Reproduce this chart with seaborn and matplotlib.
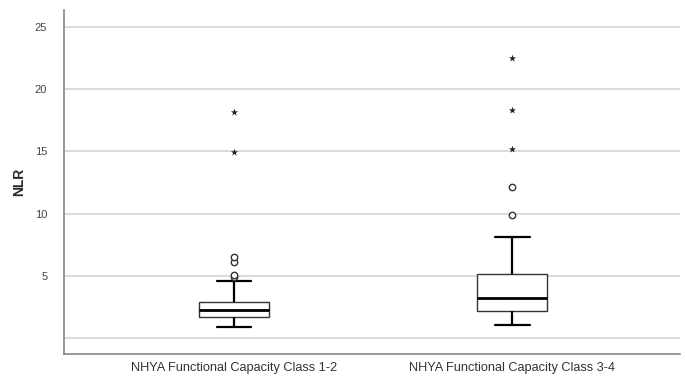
import pandas as pd
import numpy as np
import seaborn as sns
import matplotlib.pyplot as plt

# Datos (resumen de cinco numeros por grupo)
groups = ['NHYA Functional Capacity Class 1-2', 'NHYA Functional Capacity Class 3-4']
whisker_low = [0.86, 1.02]
q1 = [1.66, 2.20]
median = [2.25, 3.24]
q3 = [2.92, 5.12]
whisker_high = [4.58, 8.09]

# Atipicos (circulos) y extremos (estrellas)
outliers_g1 = [4.93, 5.10, 6.13, 6.54]
outliers_g2 = [9.86, 12.16]
extremes_g1 = [14.97, 18.20]
extremes_g2 = [15.17, 18.33, 22.56]

y_ticks = [0, 5, 10, 15, 20, 25]
y_labels = ['', '5', '10', '15', '20', '25']

rows = []
for i, g in enumerate(groups):
    for v in [whisker_low[i], q1[i], median[i], q3[i], whisker_high[i]]:
        rows.append({'group': g, 'NLR': v})
df_box = pd.DataFrame(rows)

df_out = pd.DataFrame({'group': [groups[0]] * len(outliers_g1) + [groups[1]] * len(outliers_g2),
                       'NLR': outliers_g1 + outliers_g2})
df_ext = pd.DataFrame({'group': [groups[0]] * len(extremes_g1) + [groups[1]] * len(extremes_g2),
                       'NLR': extremes_g1 + extremes_g2})

sns.set_style('white')
plt.rcParams['font.family'] = ['Liberation Sans', 'DejaVu Sans']

fig = plt.figure(figsize=(6.85, 3.76), dpi=100)
ax = fig.add_axes([0.0934, 0.0585, 0.8993, 0.9145])

for y in y_ticks:
    ax.axhline(y, color='#d4d4d4', linewidth=1.2, zorder=0)

sns.boxplot(data=df_box, x='group', y='NLR', ax=ax, whis=(0, 100), width=0.25,
            showfliers=False, color='white', linecolor='black', linewidth=1.0,
            medianprops={'linewidth': 2.0, 'color': 'black'},
            whiskerprops={'linewidth': 1.6, 'color': 'black'},
            capprops={'linewidth': 1.6, 'color': 'black'},
            boxprops={'edgecolor': '#333333', 'linewidth': 1.0}, zorder=2)

sns.stripplot(data=df_out, x='group', y='NLR', ax=ax, jitter=False, marker='o',
              size=4.6, color='white', edgecolor='#333333', linewidth=1.0, zorder=3)
sns.stripplot(data=df_ext, x='group', y='NLR', ax=ax, jitter=False, marker='*',
              size=5.5, color='#222222', linewidth=0, zorder=3)

ax.set_xlim(-0.611, 1.603)
ax.set_ylim(-1.29, 26.37)
ax.set_yticks(y_ticks)
ax.set_yticklabels(y_labels, fontsize=8, color='#444444')
ax.tick_params(axis='x', labelsize=9.2, colors='#333333', length=0, pad=6)
ax.tick_params(axis='y', length=0, pad=12)
ax.set_xlabel('')
ax.set_ylabel('NLR', fontsize=10, fontweight='bold')
ax.yaxis.set_label_coords(-0.062, 0.5)

for s in ['top', 'right']:
    ax.spines[s].set_visible(False)
for s in ['left', 'bottom']:
    ax.spines[s].set_color('#888888')
    ax.spines[s].set_linewidth(1.2)

fig.savefig('out.png', dpi=100)
